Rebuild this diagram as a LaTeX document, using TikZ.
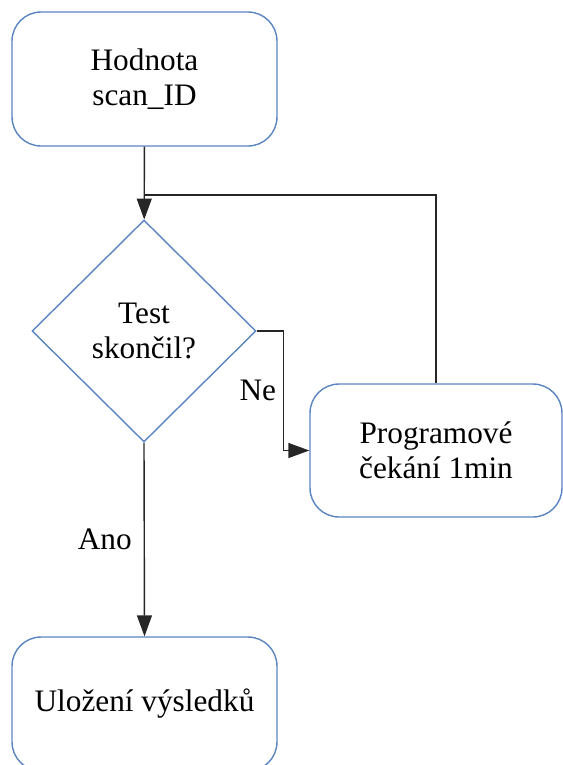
\documentclass[tikz,border=0pt]{standalone}
\usepackage{fontspec}
\setmainfont{Liberation Serif}
\usepackage{xcolor}
\usetikzlibrary{shapes.geometric, positioning, arrows.meta}

\definecolor{boxblue}{HTML}{5B85C0}
\definecolor{linegray}{HTML}{262626}

\begin{document}
\begin{tikzpicture}[
    x=0.02cm, y=-0.02cm,
    font=\fontsize{17.8}{19.8}\selectfont,
    process/.style={draw=boxblue, line width=0.8pt, rectangle, rounded corners=0.58cm, minimum width=5.3cm, minimum height=2.68cm, align=center, fill=white},
    decision/.style={draw=boxblue, line width=0.8pt, diamond, aspect=1, minimum width=4.48cm, minimum height=4.44cm, inner sep=0pt, align=center, fill=white},
    conn/.style={draw=linegray, line width=0.8pt},
    arr/.style={conn, -{Triangle[length=0.42cm, width=0.3cm]}}
]
    \useasboundingbox (0,0) rectangle (563,765);
    \clip (0,0) rectangle (563,765);

    % --- Steps ---
    \node[process] (hodnota) at (144.5, 79) {Hodnota\\scan\_ID};
    \node[decision] (test) at (144, 331) {Test\\skon\v{c}il?};
    \node[process, minimum width=5.04cm, minimum height=2.66cm] (cekani) at (436, 450.5) {Programov\'e\\\v{c}ek\'an\'i 1min};
    \node[process] (ulozeni) at (144.5, 704) {Ulo\v{z}en\'i v\'ysledk\r{u}};

    % --- Loop join ---
    \coordinate (join) at (144, 195);

    % --- Connectors ---
    \draw[arr] (hodnota) -- (test);
    \draw[arr] (test.east) -- ++(27,0) |- (cekani.west) node[pos=0.25, left=0.02cm] {Ne};
    \draw[conn] (cekani.north) |- (join);
    \draw[arr] (test.south) -- (ulozeni.north) node[midway, left=0.12cm] {Ano};

\end{tikzpicture}
\end{document}
